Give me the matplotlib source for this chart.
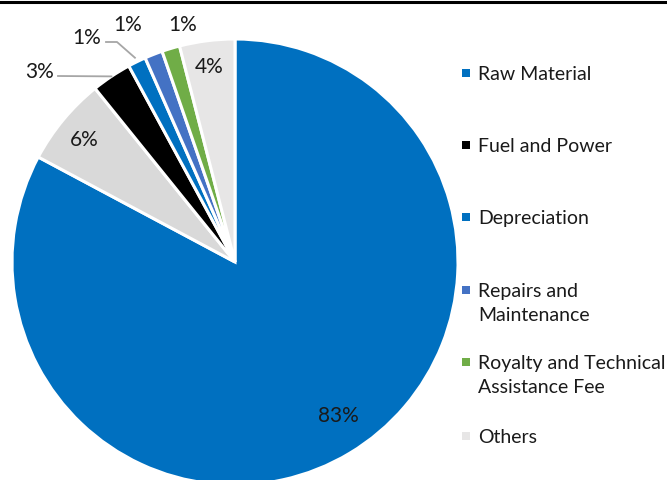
import matplotlib
matplotlib.use("Agg")
import matplotlib.pyplot as plt
from matplotlib.patches import Rectangle
from matplotlib.lines import Line2D
import numpy as np

plt.rcParams['font.family'] = ['Lato', 'DejaVu Sans']

# ---- data (clockwise from 12 o'clock) ----
categories = ["Raw Material", "Employee Cost", "Fuel and Power", "Depreciation",
              "Repairs and\nMaintenance", "Royalty and Technical\nAssistance Fee", "Others"]
values = [82.8, 6.4, 2.9, 1.3, 1.3, 1.3, 4.0]
pct_labels = ["83%", "6%", "3%", "1%", "1%", "1%", "4%"]
colors = ["#0070C0", "#D9D9D9", "#000000", "#0070C0", "#4472C4", "#70AD47", "#E7E6E6"]
legend_items = ["Raw Material", "Fuel and Power", "Depreciation",
                "Repairs and\nMaintenance", "Royalty and Technical\nAssistance Fee", "Others"]

W, H = 667, 481
fig = plt.figure(figsize=(W / 100, H / 100), dpi=100)

# pie axes: centre (235, 263) px, radius 223 px
R = 223
cx, cy = 235, 263
ax = fig.add_axes([(cx - R) / W, (H - cy - R) / H, 2 * R / W, 2 * R / H])

wedges, _ = ax.pie(values, colors=colors, startangle=90, counterclock=False,
                   radius=1.0, wedgeprops=dict(edgecolor='white', linewidth=2.2))
ax.set_xlim(-1, 1)
ax.set_ylim(-1, 1)
ax.set_aspect('equal')
ax.axis('off')

txt_color = "#1a1a1a"
fs_lab = 15
fs_leg = 14

def px2d(px, py):
    return ((px - cx) / R, (cy - py) / R)

# label placements (pixel positions of text centres)
label_px = [(338, 416), (84, 140), (40, 72), (87, 38), (128, 25), (183, 25), (209, 67)]
for w, lab, (px, py) in zip(wedges, pct_labels, label_px):
    x, y = px2d(px, py)
    ax.text(x, y, lab, ha='center', va='center', fontsize=fs_lab, color=txt_color, clip_on=False)

def edge_point(w, r=1.0):
    ang = np.deg2rad((w.theta1 + w.theta2) / 2)
    return r * np.cos(ang), r * np.sin(ang)

lead_col = "#A6A6A6"
# leader for Fuel and Power (3%)
ex, ey = edge_point(wedges[2], 1.0)
sx, sy = px2d(58, 77)
ax.plot([sx, ex], [sy, ey], color=lead_col, lw=1.3, clip_on=False)
# leader for Depreciation (1%)
ex, ey = edge_point(wedges[3], 1.02)
s1 = px2d(106, 43)
s2 = px2d(117, 43)
ax.plot([s1[0], s2[0], ex], [s1[1], s2[1], ey], color=lead_col, lw=1.3, clip_on=False)

# legend (manual)
leg_colors = [colors[0], colors[2], colors[3], colors[4], colors[5], colors[6]]
row_cap_centres = [74, 146, 218, 291, 363, 437]
for lab, col, yc in zip(legend_items, leg_colors, row_cap_centres):
    fig.add_artist(Rectangle(((462) / W, (H - yc - 4) / H), 8 / W, 8 / H,
                             transform=fig.transFigure, facecolor=col, edgecolor='none'))
    for i, line in enumerate(lab.split("\n")):
        fig.text(478 / W, (H - (yc + 6 + 24 * i)) / H, line, ha='left', va='baseline',
                 fontsize=fs_leg, color=txt_color)

# top border line
fig.add_artist(Line2D([0, 1], [1 - 2.5 / H, 1 - 2.5 / H], transform=fig.transFigure,
                      color='black', lw=2.2))

fig.savefig("out.png", dpi=100)
